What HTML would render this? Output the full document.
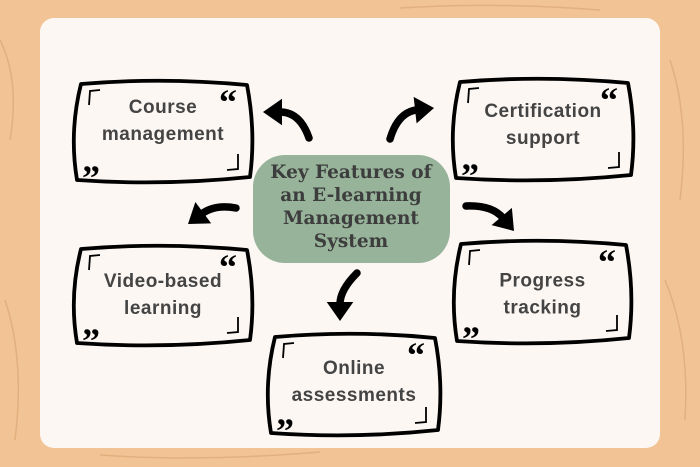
<!DOCTYPE html>
<html><head><meta charset="utf-8"><style>
html,body{margin:0;padding:0;width:700px;height:467px;overflow:hidden;background:#f2c394}
svg{display:block}
</style></head><body>
<svg id="s" width="700" height="467" viewBox="0 0 700 467" xmlns="http://www.w3.org/2000/svg">
<rect width="700" height="467" fill="#f2c394"/>
<g stroke="#dca877" stroke-width="1.5" fill="none" opacity="0.7">
<path d="M0 40 Q20 80 10 140"/><path d="M5 300 Q25 360 15 440"/><path d="M670 60 Q690 120 680 200"/><path d="M665 280 Q690 340 685 420"/><path d="M100 455 Q200 462 320 452"/><path d="M400 8 Q500 2 600 10"/>
</g>
<rect x="40" y="18" width="620" height="430" rx="14" fill="#fcf7f3"/>
<rect x="253" y="155" width="197" height="108" rx="32" fill="#97b39a"/>
<g font-family="'DejaVu Serif','Liberation Serif',serif" font-weight="bold" font-size="18.5" fill="#3d3d3d" text-anchor="middle">
<text x="351" y="178">Key Features of</text>
<text x="351" y="201">an E-learning</text>
<text x="351" y="224">Management</text>
<text x="351" y="247">System</text>
</g>
<g id="boxes"></g>
<g id="arrows" fill="#000"></g>
</svg>
<script>
const B=[[73,80,180,104,"Course","management",-26],[452,78,182,104,"Certification","support",-20],[73,245,180,102,"Video-based","learning",-16],[453,240,179,105,"Progress","tracking",-13],[267,333,174,104,"Online","assessments",-18]];
let h="";
for(const [x,y,w,hh,a,b,o] of B){
 const cx=x+w/2,cy=y+hh/2;
 h+=`<path d="M${x+8},${y+4} Q${cx},${y-3} ${x+w-6},${y+5} Q${x+w+3},${cy} ${x+w-3},${y+hh-7} Q${cx},${y+hh+2} ${x+4},${y+hh-4} Q${x-4},${cy} ${x+8},${y+4} Z" fill="none" stroke="#000" stroke-width="3.8" stroke-linejoin="round"/>`;
 h+=`<path d="M${x+16},${y+25} L${x+17},${y+11} L${x+27},${y+10}" fill="none" stroke="#000" stroke-width="1.8"/>`;
 h+=`<path d="M${x+w-26},${y+hh-14} L${x+w-15},${y+hh-15} L${x+w-15},${y+hh-30}" fill="none" stroke="#000" stroke-width="1.8"/>`;
 h+=`<text x="${x+w-34}" y="${y+34}" font-family="'Liberation Serif',serif" font-weight="bold" font-size="36" fill="#000">“</text>`;
 h+=`<text x="${x+9}" y="${y+hh+6}" font-family="'Liberation Serif',serif" font-weight="bold" font-size="36" fill="#000">”</text>`;
 h+=`<g font-family="'Liberation Sans',sans-serif" font-weight="bold" font-size="19" fill="#444" text-anchor="middle" letter-spacing="0.5"><text x="${cx}" y="${cy+o+7}">${a}</text><text x="${cx}" y="${cy+o+34}">${b}</text></g>`;
}
document.getElementById("boxes").innerHTML=h;
function arrow(t,c,tip,sz){
 const dx=tip[0]-c[0],dy=tip[1]-c[1],L=Math.hypot(dx,dy),ux=dx/L,uy=dy/L;
 const bx=tip[0]-ux*sz,by=tip[1]-uy*sz,px=-uy*sz*0.7,py=ux*sz*0.7;
 return `<path d="M${t[0]},${t[1]} Q${c[0]},${c[1]} ${bx+ux*2},${by+uy*2}" fill="none" stroke="#000" stroke-width="7.5" stroke-linecap="round"/><path d="M${tip[0]},${tip[1]} L${bx+px},${by+py} L${bx-px},${by-py} Z"/>`;
}
document.getElementById("arrows").innerHTML=
 arrow([309,138],[300,112],[263,112],19)+
 arrow([390,139],[398,112],[434,108],19)+
 arrow([236,208],[215,204],[188,224],19)+
 arrow([466,206],[492,205],[514,231],19)+
 arrow([357,273],[340,290],[340,321],19);
</script>
</body></html>
